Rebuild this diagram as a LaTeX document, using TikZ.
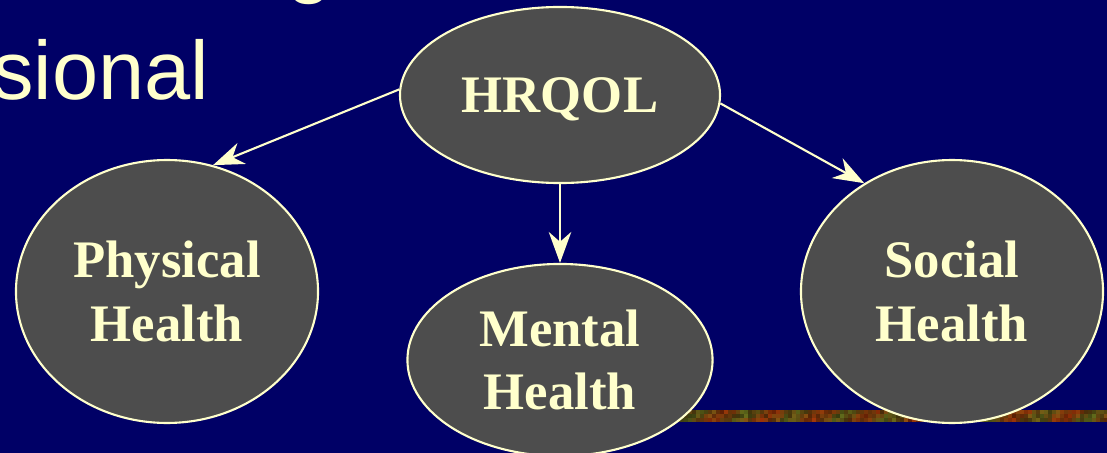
\documentclass[tikz,border=0pt]{standalone}
\usepackage{fontspec}
\setmainfont{Liberation Serif}
\setsansfont{Liberation Sans}
\usetikzlibrary{shapes.geometric,arrows.meta}
\definecolor{slidebg}{RGB}{0,0,102}
\definecolor{cream}{RGB}{255,255,204}
\definecolor{bubblegray}{RGB}{77,77,77}
\definecolor{rust}{RGB}{170,55,8}
\definecolor{moss}{RGB}{100,110,28}
\tikzset{
	bubble/.style={ellipse, draw=cream, fill=bubblegray, line width=1.5pt, text=cream,
		font=\bfseries\fontsize{37.5}{45}\selectfont, align=center, inner sep=0pt},
	link/.style={draw=cream, line width=1.5pt, -{Stealth[length=22pt,width=16pt,inset=7pt]}},
	slidetext/.style={anchor=base west, inner sep=0pt, text=cream, font=\sffamily\fontsize{59}{70}\selectfont}
}

\begin{document}
\begin{tikzpicture}[x=0.025cm, y=-0.025cm]
		%%%%% START %%%%%
		
		\useasboundingbox (0, 0) rectangle (1107, 453);
		\fill[slidebg] (0, 0) rectangle (1107, 453);
		
		% title left over from the slide
		\node[slidetext] (titleg) at (286, -12) {g};
		\node[slidetext] (titletail) at (-8, 100) {sional};
		
		% textured strip
		\pgfmathsetseed{11}
		\foreach \i in {0,...,111}{
			\foreach \j in {0,1,2}{
				\pgfmathsetmacro{\mixa}{int(max(0,min(100,50+40*sin(\i*29+\j*40)+rnd*40-20)))}
				\pgfmathsetmacro{\dk}{int(55+rnd*45)}
				\fill[rust!\mixa!moss!\dk!black] ({660+4*\i}, {410+4*\j}) rectangle ++(4, 4);
			}
		}
		
		\node[bubble, minimum width=227.6pt, minimum height=125.2pt, text height=25pt, text depth=-3.5pt] (hrqol) at (560, 95) {HRQOL};
		\node[bubble, minimum width=214.8pt, minimum height=187pt] (physical) at (167, 291.5) {Physical\\Health};
		\node[bubble, minimum width=217pt, minimum height=136.6pt] (mental) at (560, 360) {Mental\\Health};
		\node[bubble, minimum width=214.8pt, minimum height=187pt] (social) at (952, 291.5) {Social\\Health};
		
		\draw[link] (hrqol.178) -- (physical.70.6);
		\draw[link] (hrqol.south) -- (mental.north);
		\draw[link] (hrqol.-3) -- (social.129.8);
		
		%%%%% END %%%%%
\end{tikzpicture}
\end{document}
